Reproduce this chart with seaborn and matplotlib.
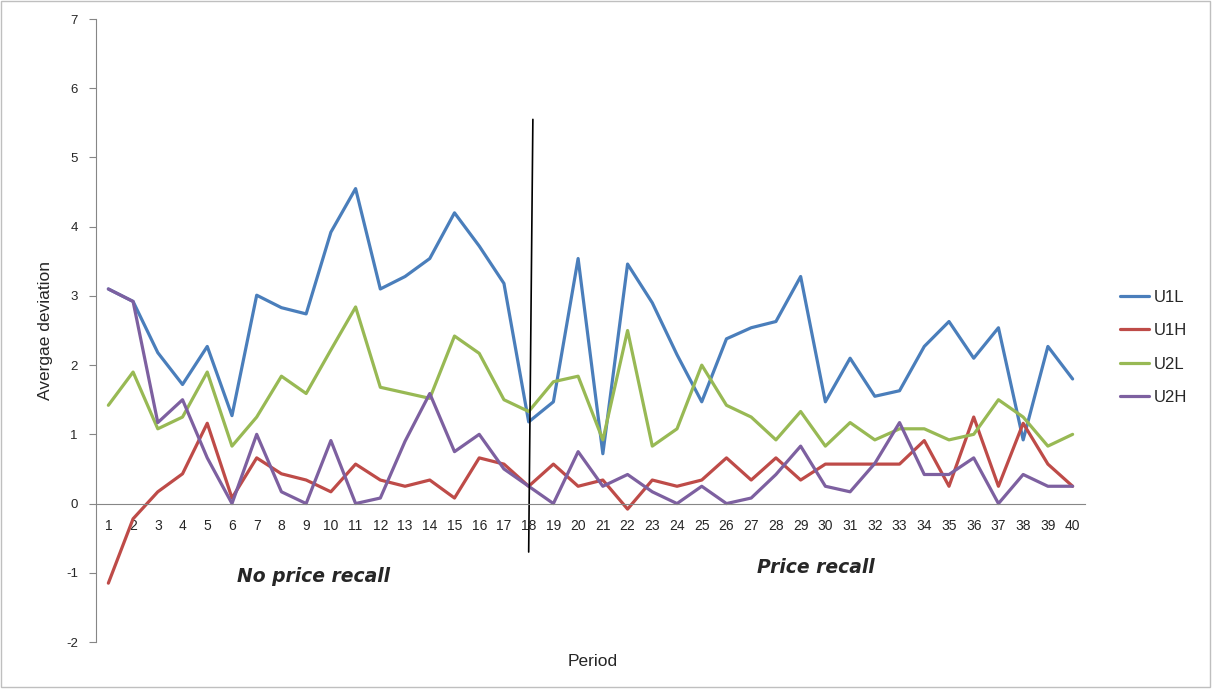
import pandas as pd
import matplotlib.pyplot as plt
import seaborn as sns
from matplotlib.patches import Rectangle

# Average deviation per period
periods = list(range(1, 41))
u1l = [3.10, 2.92, 2.18, 1.72, 2.27, 1.27, 3.01, 2.83, 2.74, 3.92,
       4.55, 3.10, 3.28, 3.54, 4.20, 3.72, 3.18, 1.18, 1.47, 3.54,
       0.72, 3.46, 2.90, 2.15, 1.47, 2.38, 2.54, 2.63, 3.28, 1.47,
       2.10, 1.55, 1.63, 2.27, 2.63, 2.10, 2.54, 0.92, 2.27, 1.80]
u1h = [-1.15, -0.22, 0.17, 0.43, 1.16, 0.08, 0.66, 0.43, 0.34, 0.17,
       0.57, 0.34, 0.25, 0.34, 0.08, 0.66, 0.57, 0.25, 0.57, 0.25,
       0.34, -0.08, 0.34, 0.25, 0.34, 0.66, 0.34, 0.66, 0.34, 0.57,
       0.57, 0.57, 0.57, 0.91, 0.25, 1.25, 0.25, 1.16, 0.57, 0.25]
u2l = [1.42, 1.90, 1.08, 1.25, 1.90, 0.83, 1.25, 1.84, 1.59, 2.22,
       2.84, 1.68, 1.60, 1.52, 2.42, 2.17, 1.50, 1.33, 1.76, 1.84,
       0.92, 2.50, 0.83, 1.08, 2.00, 1.42, 1.25, 0.92, 1.33, 0.83,
       1.17, 0.92, 1.08, 1.08, 0.92, 1.00, 1.50, 1.25, 0.83, 1.00]
u2h = [3.10, 2.92, 1.17, 1.50, 0.66, 0.00, 1.00, 0.17, 0.00, 0.91,
       0.00, 0.08, 0.90, 1.59, 0.75, 1.00, 0.50, 0.25, 0.00, 0.75,
       0.25, 0.42, 0.17, 0.00, 0.25, 0.00, 0.08, 0.42, 0.83, 0.25,
       0.17, 0.58, 1.17, 0.42, 0.42, 0.66, 0.00, 0.42, 0.25, 0.25]

series_names = ['U1L', 'U1H', 'U2L', 'U2H']
colors = ['#4A7EBB', '#BE4B48', '#98B954', '#7D60A0']

# divider between the two treatments (period, deviation)
divider_x = [18.17, 18.0]
divider_y = [5.55, -0.7]

df = pd.DataFrame({'Period': periods, 'U1L': u1l, 'U1H': u1h, 'U2L': u2l, 'U2H': u2h})
long_df = df.melt(id_vars='Period', var_name='Series', value_name='Deviation')

sns.set_style("white")
plt.rcParams['font.family'] = ['Liberation Sans', 'DejaVu Sans']

fig = plt.figure(figsize=(12.12, 6.89), dpi=100)
ax = fig.add_axes([0.0792, 0.0682, 0.8160, 0.9042])

sns.lineplot(data=long_df, x='Period', y='Deviation', hue='Series',
             hue_order=series_names, palette=colors, linewidth=2.3, ax=ax)

ax.plot(divider_x, divider_y, color='black', linewidth=1.2)

ax.set_xlim(0.5, 40.5)
ax.set_ylim(-2, 7)
ax.set_xticks(periods)
ax.set_xticklabels([str(p) for p in periods], fontsize=9.5)
ax.set_yticks(range(-2, 8))
ax.set_yticklabels([str(v) for v in range(-2, 8)], fontsize=9.5)

for s in ['top', 'right']:
    ax.spines[s].set_visible(False)
ax.spines['left'].set_color('#868686')
ax.spines['bottom'].set_color('#868686')
ax.spines['bottom'].set_position(('data', 0))
ax.tick_params(axis='x', length=0, pad=11)
ax.tick_params(axis='y', length=5, color='#868686', direction='out', left=True, pad=8)

ax.set_xlabel('Period', fontsize=12.5)
ax.xaxis.set_label_coords(0.502, -0.02)
ax.set_ylabel('Avergae deviation', fontsize=12.5)
ax.yaxis.set_label_coords(-0.043, 0.5)

ax.text(9.3, -1.05, 'No price recall', fontsize=13.5, fontweight='bold',
        fontstyle='italic', family='DejaVu Sans', ha='center', va='center')
ax.text(29.6, -0.93, 'Price recall', fontsize=13.5, fontweight='bold',
        fontstyle='italic', family='DejaVu Sans', ha='center', va='center')

leg = ax.legend(loc='center left', bbox_to_anchor=(1.02, 0.473), frameon=False,
                fontsize=12, handlelength=1.75, labelspacing=1.1, handletextpad=0.3)
for line in leg.get_lines():
    line.set_linewidth(2.3)

fig.patches.append(Rectangle((0.0005, 0.003), 0.998, 0.995, transform=fig.transFigure,
                             fill=False, edgecolor='#BFBFBF', linewidth=1))

fig.savefig('out.png', dpi=100)
